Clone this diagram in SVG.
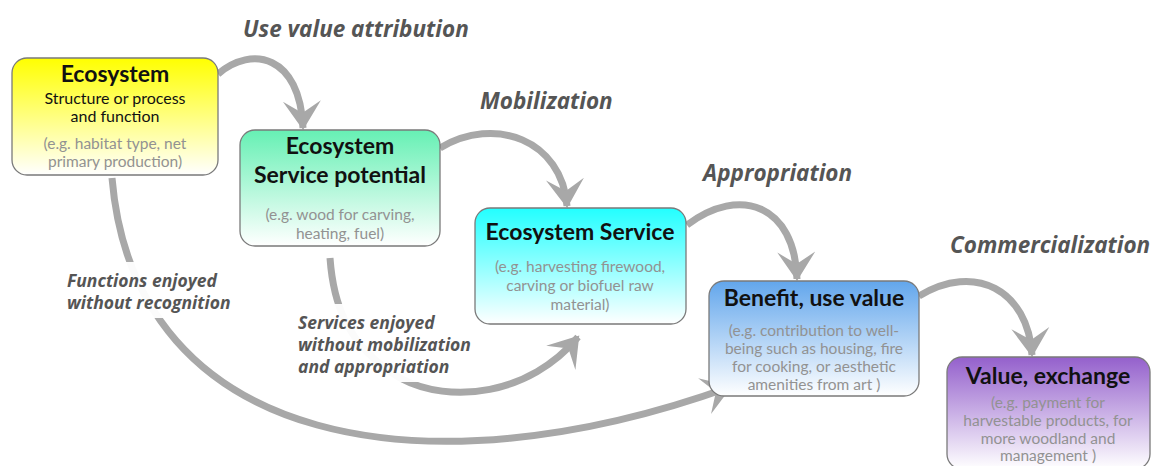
<svg xmlns="http://www.w3.org/2000/svg" width="1163" height="466" viewBox="0 0 1163 466">
<style>
.box{stroke:#7a7a7a;stroke-width:1.3}
.t{font-family:Lato,"Open Sans",sans-serif;font-weight:bold;fill:#111;text-anchor:middle;font-size:23px}
.s{font-family:Lato,"Open Sans",sans-serif;fill:#111;text-anchor:middle;font-size:16px}
.g{font-family:Lato,"Open Sans",sans-serif;fill:#929292;text-anchor:middle;font-size:15.5px}
.lab{font-family:"Open Sans",Lato,sans-serif;font-weight:bold;font-style:italic;fill:#555;font-size:22.5px}
.lab2{font-family:"Open Sans",Lato,sans-serif;font-weight:bold;font-style:italic;fill:#555;font-size:17.5px}
.c{fill:none;stroke:#a8a8a8;stroke-width:7;marker-end:url(#ah)}
</style>
<defs>
<marker id="ah" markerUnits="userSpaceOnUse" viewBox="-30 -21 33 42" refX="0" refY="0" markerWidth="33" markerHeight="42" orient="auto">
<path d="M2,0 L-27,-19 L-15,0 L-27,19 Z" fill="#a8a8a8"/>
</marker>
<linearGradient id="gy" x1="0" y1="0" x2="0" y2="1"><stop offset="0" stop-color="#ffff00"/><stop offset="1" stop-color="#ffffff"/></linearGradient>
<linearGradient id="gg" x1="0" y1="0" x2="0" y2="1"><stop offset="0" stop-color="#66f0b4"/><stop offset="1" stop-color="#ffffff"/></linearGradient>
<linearGradient id="gc" x1="0" y1="0" x2="0" y2="1"><stop offset="0" stop-color="#22ffff"/><stop offset="1" stop-color="#ffffff"/></linearGradient>
<linearGradient id="gb" x1="0" y1="0" x2="0" y2="1"><stop offset="0" stop-color="#62a6ec"/><stop offset="1" stop-color="#ffffff"/></linearGradient>
<linearGradient id="gp" x1="0" y1="0" x2="0" y2="1"><stop offset="0" stop-color="#9460cc"/><stop offset="1" stop-color="#ffffff"/></linearGradient>
</defs>

<g id="connectors">
<path class="c" d="M218,74 C252,45 300,55 303,128"/>
<path class="c" d="M440,148 C495,115 562,140 567,206"/>
<path class="c" d="M687,225 C740,185 795,205 797,279"/>
<path class="c" d="M919,296 C975,262 1028,290 1032,355"/>
<path class="c" d="M112,178 C135,450 430,495 730,387"/>
<path class="c" d="M330,258 C333,300 345,345 400,378 C450,405 530,395 578,337"/>
</g>

<g id="label-functions">
<rect x="60" y="262" width="192" height="56" fill="#ffffff" opacity="0.95"/>
<text class="lab2" x="67" y="287">Functions enjoyed</text>
<text class="lab2" x="67" y="309">without recognition</text>
</g>
<g id="label-services">
<rect x="290" y="304" width="200" height="78" fill="#ffffff" opacity="0.95"/>
<text class="lab2" x="298" y="329">Services enjoyed</text>
<text class="lab2" x="298" y="351">without mobilization</text>
<text class="lab2" x="298" y="373">and appropriation</text>
</g>

<g id="node-ecosystem">
<rect class="box" x="12" y="58" width="206" height="117" rx="15" fill="url(#gy)"/>
<text class="t" x="115" y="82">Ecosystem</text>
<text class="s" x="115" y="104">Structure or process</text>
<text class="s" x="115" y="122">and function</text>
<text class="g" x="115" y="149">(e.g. habitat type, net</text>
<text class="g" x="115" y="167">primary production)</text>
</g>

<g id="node-potential">
<rect class="box" x="240" y="130" width="200" height="116" rx="15" fill="url(#gg)"/>
<text class="t" x="340" y="154">Ecosystem</text>
<text class="t" x="340" y="183">Service potential</text>
<text class="g" x="340" y="220">(e.g. wood for carving,</text>
<text class="g" x="340" y="239">heating, fuel)</text>
</g>

<g id="node-service">
<rect class="box" x="475" y="208" width="211" height="116" rx="15" fill="url(#gc)"/>
<text class="t" x="580" y="240">Ecosystem Service</text>
<text class="g" x="580" y="272">(e.g.  harvesting firewood,</text>
<text class="g" x="580" y="291">carving or biofuel raw</text>
<text class="g" x="580" y="310">material)</text>
</g>

<g id="node-benefit">
<rect class="box" x="709" y="281" width="210" height="115" rx="15" fill="url(#gb)"/>
<text class="t" x="814" y="306">Benefit, use value</text>
<text class="g" x="814" y="336">(e.g. contribution to well-</text>
<text class="g" x="814" y="354">being such as housing, fire</text>
<text class="g" x="814" y="372">for cooking, or aesthetic</text>
<text class="g" x="814" y="390">amenities from art )</text>
</g>

<g id="node-value">
<rect class="box" x="947" y="357" width="203" height="112" rx="15" fill="url(#gp)"/>
<text class="t" x="1048" y="384">Value, exchange</text>
<text class="g" x="1048" y="408">(e.g. payment for</text>
<text class="g" x="1048" y="426">harvestable products, for</text>
<text class="g" x="1048" y="444">more woodland and</text>
<text class="g" x="1048" y="461">management )</text>
</g>

<g id="stage-labels">
<text class="lab" x="243" y="37">Use value attribution</text>
<text class="lab" x="480" y="109">Mobilization</text>
<text class="lab" x="703" y="181">Appropriation</text>
<text class="lab" x="950" y="253">Commercialization</text>
</g>
</svg>
